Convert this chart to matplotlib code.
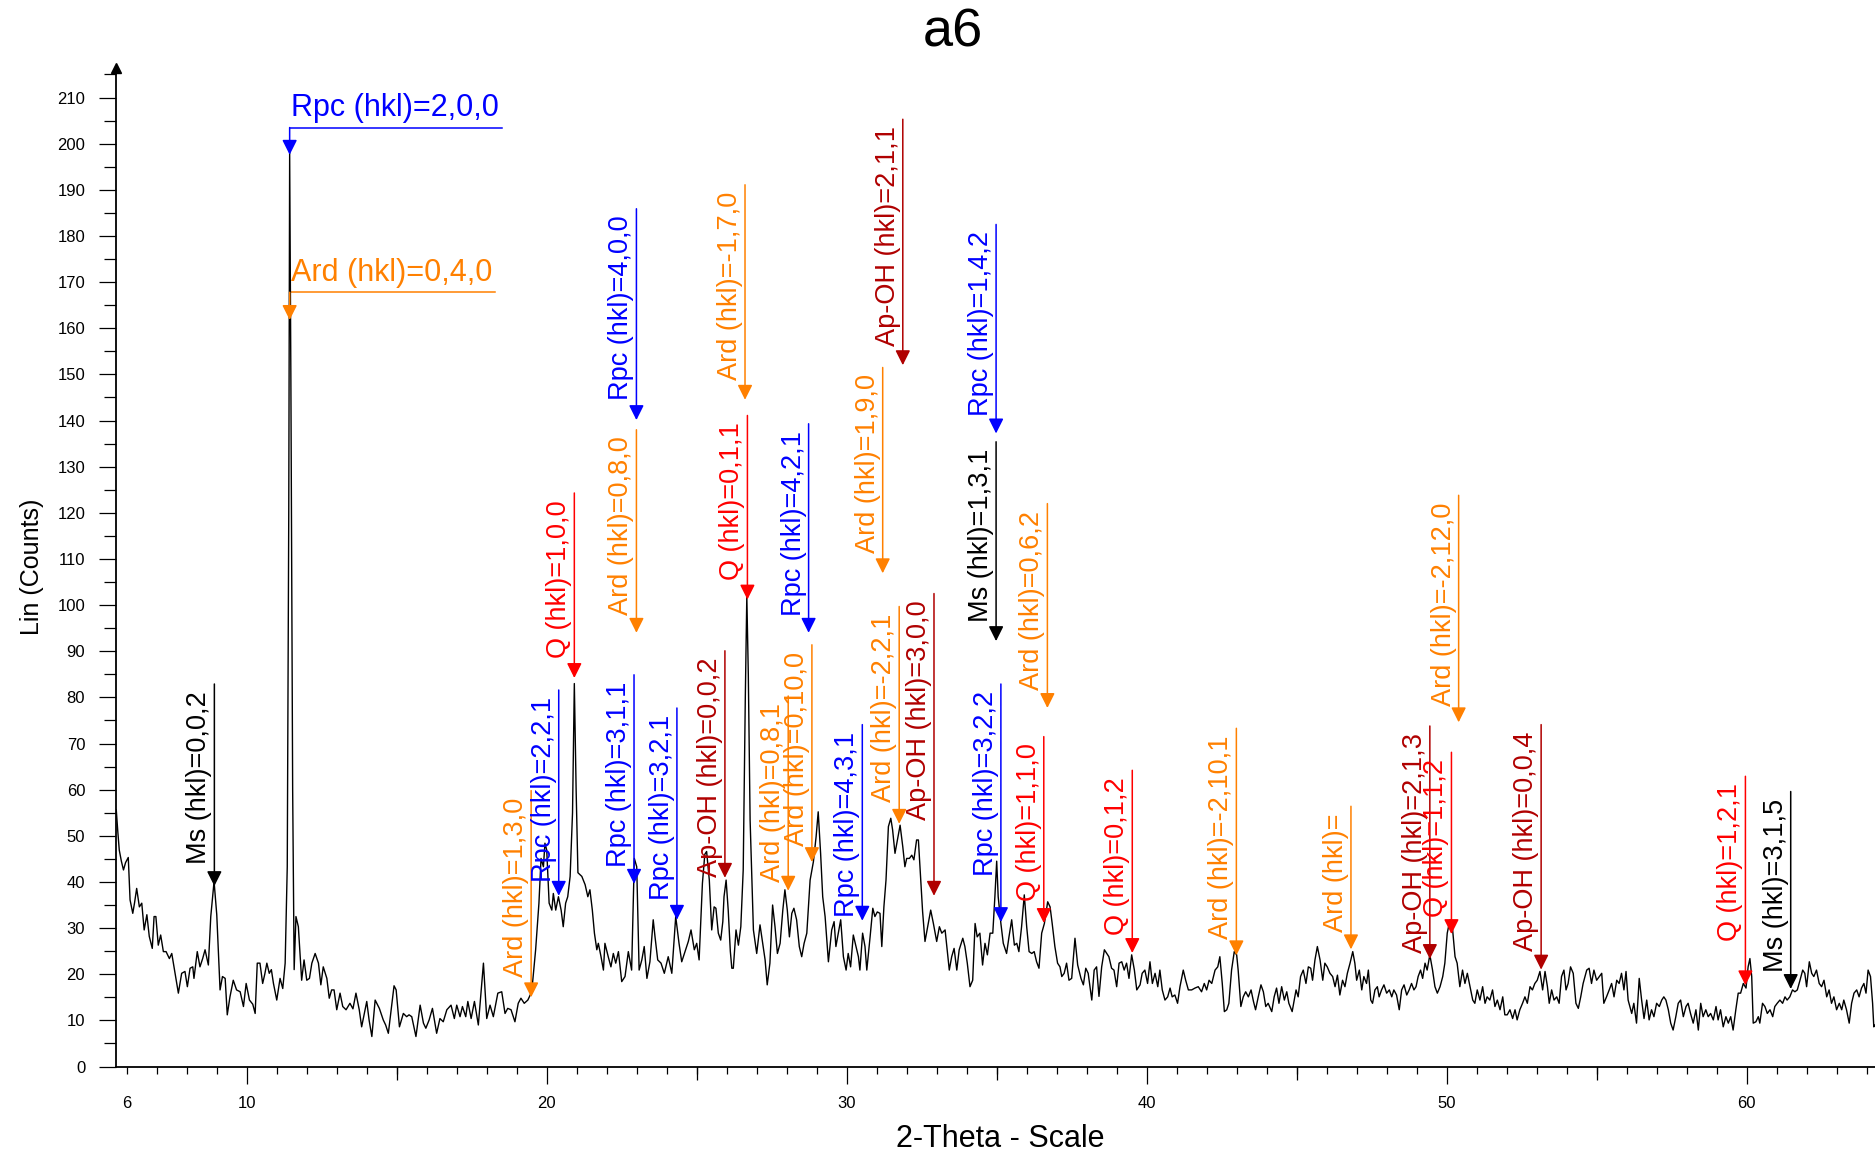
import matplotlib
matplotlib.use("Agg")
import matplotlib.pyplot as plt
import numpy as np
from matplotlib import font_manager
from matplotlib.ticker import FixedLocator, MultipleLocator

# scan, (2-theta, counts), split by range
scan_6_15 = [
    (5.65, 55.6), (5.70, 51.0), (5.75, 46.9), (5.82, 44.5), (5.89, 42.6), (5.96, 44.2),
    (6.05, 45.3), (6.11, 36.1), (6.20, 33.2), (6.26, 35.5), (6.33, 38.6), (6.42, 34.6),
    (6.50, 35.4), (6.58, 29.6), (6.67, 32.9), (6.75, 28.2), (6.85, 25.6), (6.91, 32.5),
    (6.97, 32.5), (7.05, 26.3), (7.13, 28.5), (7.22, 24.9), (7.31, 24.9), (7.42, 23.4),
    (7.50, 24.5), (7.61, 20.2), (7.72, 15.9), (7.83, 20.2), (7.94, 20.6), (8.02, 17.3),
    (8.11, 21.3), (8.20, 21.6), (8.24, 19.1), (8.35, 24.9), (8.44, 21.6), (8.53, 23.4),
    (8.61, 25.3), (8.72, 22.0), (8.80, 32.5), (8.91, 40.1), (9.00, 32.9), (9.11, 16.6),
    (9.19, 19.5), (9.28, 19.1), (9.35, 11.2), (9.44, 15.1), (9.55, 18.7), (9.66, 16.6),
    (9.78, 16.2), (9.89, 13.0), (9.98, 18.0), (10.09, 14.4), (10.20, 13.5), (10.28, 11.5),
    (10.35, 22.4), (10.44, 22.4), (10.53, 18.0), (10.60, 20.0), (10.67, 22.4), (10.75, 20.2),
    (10.82, 21.0), (10.89, 18.0), (11.00, 14.4), (11.11, 19.1), (11.20, 16.9), (11.28, 22.4),
    (11.35, 43.3), (11.40, 120.0), (11.43, 198.0), (11.47, 150.0), (11.53, 60.0), (11.58, 21.0),
    (11.64, 32.5), (11.72, 30.3), (11.83, 18.7), (11.91, 23.1), (12.00, 18.7), (12.09, 19.1),
    (12.17, 22.4), (12.28, 24.5), (12.39, 22.4), (12.47, 17.7), (12.55, 21.6), (12.67, 19.1),
    (12.75, 14.8), (12.83, 16.6), (12.91, 16.6), (13.00, 12.3), (13.11, 15.9), (13.20, 13.0),
    (13.31, 12.3), (13.44, 13.7), (13.54, 12.5), (13.64, 15.9), (13.75, 12.3), (13.83, 8.6),
    (14.00, 14.1), (14.08, 10.0), (14.17, 6.5), (14.28, 14.4), (14.42, 12.6), (14.55, 10.1),
    (14.63, 9.0), (14.72, 7.2), (14.80, 11.5), (14.91, 17.5), (14.98, 16.6), (15.09, 8.6),
    (15.22, 11.5), (15.33, 10.8),
]
scan_15_25 = [
    (15.41, 11.2), (15.50, 10.8), (15.64, 6.5), (15.78, 13.3), (15.89, 9.4), (15.97, 8.3),
    (16.08, 10.1), (16.19, 12.6), (16.33, 7.2), (16.44, 10.4), (16.55, 9.7), (16.67, 12.3),
    (16.81, 13.3), (16.92, 10.4), (17.00, 13.3), (17.11, 10.8), (17.19, 13.0), (17.30, 10.8),
    (17.37, 14.1), (17.48, 10.4), (17.59, 14.1), (17.72, 9.0), (17.89, 22.4), (18.00, 10.4),
    (18.11, 13.3), (18.22, 10.8), (18.37, 15.9), (18.50, 16.2), (18.61, 11.5), (18.70, 12.6),
    (18.81, 12.3), (18.94, 9.7), (19.05, 13.7), (19.14, 14.8), (19.25, 13.7), (19.37, 14.4),
    (19.50, 16.2), (19.63, 25.3), (19.74, 35.4), (19.81, 45.1), (19.89, 43.3), (19.94, 48.4),
    (20.00, 46.9), (20.08, 35.4), (20.17, 33.9), (20.22, 37.5), (20.30, 33.9), (20.39, 36.8),
    (20.48, 33.9), (20.55, 30.3), (20.63, 35.4), (20.70, 36.8), (20.78, 41.2), (20.86, 55.0),
    (20.92, 83.0), (20.98, 60.0), (21.04, 42.0), (21.17, 41.2), (21.28, 39.4), (21.37, 36.8),
    (21.44, 38.3), (21.52, 33.9), (21.59, 28.9), (21.67, 25.3), (21.72, 26.7), (21.81, 23.8),
    (21.89, 20.9), (21.94, 26.7), (22.05, 23.8), (22.14, 21.6), (22.22, 24.5), (22.30, 22.4),
    (22.39, 24.9), (22.50, 18.4), (22.61, 19.5), (22.72, 24.9), (22.83, 20.9), (22.92, 45.1),
    (23.00, 43.3), (23.08, 20.9), (23.17, 23.1), (23.25, 26.0), (23.34, 19.1), (23.44, 22.7),
    (23.55, 31.8), (23.61, 28.1), (23.70, 23.1), (23.81, 22.4), (23.92, 20.2), (24.05, 23.8),
    (24.17, 20.2), (24.30, 32.5), (24.41, 26.7), (24.50, 22.7), (24.61, 24.9), (24.72, 27.1),
    (24.81, 29.6), (24.92, 25.3), (25.00, 26.7), (25.08, 23.1),
]
scan_25_35 = [
    (25.19, 39.7), (25.27, 46.0), (25.33, 46.6), (25.42, 40.4), (25.50, 29.6), (25.58, 34.6),
    (25.64, 34.3), (25.72, 28.9), (25.80, 27.4), (25.87, 31.4), (25.91, 36.8), (25.98, 40.4),
    (26.05, 33.9), (26.12, 25.0), (26.17, 21.3), (26.22, 21.3), (26.31, 29.6), (26.39, 26.3),
    (26.47, 30.3), (26.55, 42.6), (26.62, 80.0), (26.67, 102.0), (26.72, 85.0), (26.78, 53.4),
    (26.89, 29.6), (27.00, 24.5), (27.11, 30.7), (27.20, 26.7), (27.28, 23.1), (27.35, 17.7),
    (27.44, 22.4), (27.53, 35.0), (27.61, 30.3), (27.69, 24.5), (27.78, 26.7), (27.87, 33.9),
    (27.94, 38.3), (28.02, 33.9), (28.09, 28.1), (28.17, 33.2), (28.24, 34.3), (28.33, 31.8),
    (28.42, 26.0), (28.50, 23.8), (28.58, 26.7), (28.67, 28.9), (28.78, 40.4), (28.89, 44.4),
    (28.98, 49.8), (29.05, 55.2), (29.13, 46.2), (29.20, 36.8), (29.28, 32.5), (29.39, 22.7),
    (29.50, 29.6), (29.58, 31.4), (29.64, 26.0), (29.72, 28.9), (29.80, 31.8), (29.89, 23.8),
    (29.98, 20.9), (30.05, 24.5), (30.13, 21.6), (30.22, 28.5), (30.31, 26.0), (30.39, 23.8),
    (30.44, 20.9), (30.53, 28.9), (30.61, 26.0), (30.67, 20.9), (30.78, 28.1), (30.87, 34.3),
    (30.94, 32.5), (31.02, 33.5), (31.11, 33.2), (31.17, 26.0), (31.24, 34.6), (31.31, 40.4),
    (31.39, 52.0), (31.47, 53.8), (31.53, 51.3), (31.61, 46.2), (31.69, 49.1), (31.78, 52.3),
    (31.87, 47.6), (31.94, 43.3), (32.00, 45.1), (32.09, 45.1), (32.17, 45.8), (32.24, 44.8),
    (32.33, 49.1), (32.39, 49.1), (32.47, 40.4), (32.53, 33.6), (32.61, 27.1), (32.70, 30.3),
    (32.80, 33.9), (32.89, 31.0), (33.00, 27.1), (33.09, 30.3), (33.17, 28.9), (33.28, 29.6),
    (33.35, 25.3), (33.42, 20.9), (33.50, 23.8), (33.58, 25.6), (33.67, 20.9), (33.75, 25.3),
    (33.87, 27.8), (33.94, 26.0), (34.02, 22.4), (34.11, 17.3), (34.20, 18.7), (34.28, 31.0),
    (34.35, 28.1), (34.44, 28.9), (34.53, 22.0), (34.61, 26.7), (34.69, 24.2), (34.78, 28.9),
    (34.87, 28.9), (34.94, 36.8), (35.00, 44.5),
]
scan_35_45 = [
    (35.05, 36.8), (35.14, 31.0), (35.22, 26.7), (35.33, 24.5), (35.41, 28.1), (35.50, 31.8),
    (35.59, 26.3), (35.67, 26.7), (35.74, 24.9), (35.83, 30.3), (35.92, 37.2), (36.00, 30.3),
    (36.08, 24.9), (36.17, 24.5), (36.25, 24.9), (36.33, 22.7), (36.41, 21.3), (36.50, 28.9),
    (36.59, 31.0), (36.70, 35.7), (36.78, 34.6), (36.85, 31.0), (36.94, 26.0), (37.03, 22.4),
    (37.11, 21.6), (37.17, 19.5), (37.25, 20.2), (37.33, 22.4), (37.41, 18.7), (37.50, 19.1),
    (37.61, 27.8), (37.70, 22.0), (37.81, 19.1), (37.89, 17.7), (37.97, 21.3), (38.05, 20.2),
    (38.17, 14.4), (38.25, 20.9), (38.33, 21.6), (38.41, 15.2), (38.50, 21.6), (38.59, 25.3),
    (38.67, 24.5), (38.74, 23.8), (38.83, 21.3), (38.91, 20.9), (39.00, 17.3), (39.08, 22.4),
    (39.17, 22.7), (39.25, 20.9), (39.33, 22.4), (39.41, 19.1), (39.50, 24.2), (39.59, 20.9),
    (39.67, 16.6), (39.78, 17.7), (39.85, 20.2), (39.94, 20.9), (40.03, 18.0), (40.11, 22.7),
    (40.19, 18.0), (40.28, 20.2), (40.37, 17.3), (40.44, 20.9), (40.52, 16.6), (40.61, 14.4),
    (40.70, 15.1), (40.78, 17.0), (40.85, 15.1), (40.94, 15.5), (41.03, 13.7), (41.11, 17.3),
    (41.22, 20.9), (41.30, 18.7), (41.39, 16.6), (41.50, 16.6), (41.61, 17.0), (41.72, 17.3),
    (41.83, 16.2), (41.92, 18.0), (42.00, 16.6), (42.08, 18.7), (42.17, 18.0), (42.28, 20.9),
    (42.37, 21.6), (42.44, 23.8), (42.52, 18.0), (42.59, 11.9), (42.67, 12.3), (42.74, 13.7),
    (42.83, 20.9), (42.92, 24.9), (43.00, 24.2), (43.05, 20.9), (43.14, 13.0), (43.22, 15.1),
    (43.30, 16.2), (43.39, 15.1), (43.48, 16.6), (43.56, 14.1), (43.63, 12.3), (43.72, 15.1),
    (43.81, 17.7), (43.89, 16.2), (43.97, 13.0), (44.05, 13.7), (44.17, 11.9), (44.25, 15.1),
    (44.33, 17.0), (44.41, 13.7), (44.50, 17.3), (44.59, 14.4), (44.67, 16.2), (44.74, 13.7),
    (44.85, 11.9),
]
scan_45_55 = [
    (44.98, 16.6), (45.05, 15.1), (45.13, 19.5), (45.22, 20.9), (45.31, 18.0), (45.39, 21.6),
    (45.47, 21.3), (45.53, 18.7), (45.61, 23.1), (45.69, 26.0), (45.78, 23.1), (45.87, 18.7),
    (45.94, 22.4), (46.02, 21.6), (46.11, 20.2), (46.20, 19.5), (46.28, 17.3), (46.36, 19.8),
    (46.44, 15.5), (46.53, 18.7), (46.61, 17.3), (46.69, 20.2), (46.78, 22.4), (46.87, 24.9),
    (46.94, 22.4), (47.00, 18.7), (47.09, 20.9), (47.17, 16.6), (47.24, 19.5), (47.33, 18.0),
    (47.39, 20.9), (47.47, 14.4), (47.53, 13.7), (47.61, 16.6), (47.69, 17.3), (47.75, 15.1),
    (47.83, 16.6), (47.91, 17.7), (48.00, 15.9), (48.09, 16.6), (48.17, 15.1), (48.24, 16.6),
    (48.33, 15.5), (48.42, 12.3), (48.50, 16.6), (48.58, 17.7), (48.67, 15.5), (48.75, 16.6),
    (48.83, 18.0), (48.91, 16.6), (48.98, 17.3), (49.05, 19.5), (49.13, 20.9), (49.20, 19.1),
    (49.28, 22.4), (49.35, 20.9), (49.44, 24.2), (49.53, 20.9), (49.61, 17.3), (49.69, 15.9),
    (49.78, 17.3), (49.87, 19.5), (49.94, 22.4), (50.02, 28.9), (50.11, 31.8), (50.19, 30.3),
    (50.28, 23.8), (50.35, 22.4), (50.44, 17.3), (50.53, 20.9), (50.61, 18.0), (50.69, 20.2),
    (50.78, 17.3), (50.87, 14.4), (50.94, 13.7), (51.02, 16.6), (51.11, 14.4), (51.20, 17.3),
    (51.28, 13.7), (51.35, 15.1), (51.44, 14.4), (51.53, 16.6), (51.61, 13.0), (51.69, 14.4),
    (51.78, 12.3), (51.87, 15.1), (51.94, 11.2), (52.02, 11.2), (52.11, 12.3), (52.20, 10.4),
    (52.28, 12.3), (52.35, 10.1), (52.44, 12.3), (52.53, 13.7), (52.61, 15.1), (52.69, 13.7),
    (52.78, 17.3), (52.86, 16.6), (52.94, 18.0), (53.02, 18.7), (53.11, 20.6), (53.20, 16.6),
    (53.28, 20.6), (53.36, 17.3), (53.42, 13.7), (53.50, 16.6), (53.58, 14.4), (53.67, 15.1),
    (53.75, 13.7), (53.83, 19.5), (53.91, 20.9), (53.98, 16.6), (54.05, 18.0), (54.13, 21.6),
    (54.22, 20.2), (54.31, 13.7), (54.39, 12.6), (54.47, 15.1),
]
scan_55_64 = [
    (54.55, 18.0), (54.67, 20.9), (54.75, 21.3), (54.83, 18.0), (54.91, 20.9), (55.00, 18.7),
    (55.09, 19.5), (55.17, 20.2), (55.24, 13.7), (55.33, 15.1), (55.42, 16.6), (55.50, 18.0),
    (55.58, 15.1), (55.67, 18.7), (55.75, 18.0), (55.83, 20.2), (55.91, 16.6), (55.98, 20.6),
    (56.05, 14.4), (56.17, 11.5), (56.24, 13.7), (56.33, 9.4), (56.42, 19.1), (56.50, 14.4),
    (56.58, 10.4), (56.67, 14.4), (56.75, 10.1), (56.83, 12.3), (56.91, 10.8), (57.00, 13.7),
    (57.09, 13.0), (57.17, 14.4), (57.24, 15.1), (57.31, 14.4), (57.39, 12.3), (57.47, 9.4),
    (57.55, 7.9), (57.64, 10.8), (57.72, 13.7), (57.80, 14.4), (57.89, 10.8), (57.98, 13.0),
    (58.05, 13.7), (58.13, 11.5), (58.22, 9.4), (58.31, 12.3), (58.39, 7.9), (58.47, 13.7),
    (58.55, 10.8), (58.64, 12.3), (58.72, 10.8), (58.80, 11.5), (58.89, 10.1), (58.98, 13.0),
    (59.05, 10.1), (59.13, 12.3), (59.22, 8.6), (59.31, 10.8), (59.39, 9.4), (59.47, 10.8),
    (59.55, 7.9), (59.64, 12.3), (59.72, 15.9), (59.80, 15.9), (59.89, 18.0), (59.98, 17.0),
    (60.05, 21.6), (60.11, 23.4), (60.17, 19.5), (60.22, 9.4), (60.31, 9.7), (60.39, 10.8),
    (60.44, 9.4), (60.53, 13.7), (60.61, 13.0), (60.69, 11.5), (60.78, 12.3), (60.87, 10.8),
    (60.94, 13.0), (61.02, 13.7), (61.11, 14.4), (61.20, 13.7), (61.28, 15.1), (61.35, 14.4),
    (61.44, 15.1), (61.53, 16.6), (61.61, 16.2), (61.69, 16.6), (61.78, 18.7), (61.87, 20.9),
    (61.94, 20.2), (62.00, 17.3), (62.09, 22.7), (62.17, 20.2), (62.24, 19.5), (62.33, 20.9),
    (62.42, 18.0), (62.50, 17.3), (62.58, 18.7), (62.67, 15.1), (62.75, 16.6), (62.83, 13.7),
    (62.91, 15.1), (63.00, 12.3), (63.09, 13.7), (63.17, 12.3), (63.24, 14.4), (63.33, 12.3),
    (63.42, 9.4), (63.50, 13.7), (63.58, 15.9), (63.67, 16.6), (63.75, 15.1), (63.83, 17.0),
    (63.91, 18.0), (63.98, 15.9), (64.05, 20.9), (64.13, 19.5), (64.20, 13.7), (64.24, 8.6),
    (64.28, 9.0),
]

# peak markers: label, phase, 2-theta, arrow tip, top of line
peak_labels = [
    "Ms (hkl)=0,0,2", "Ard (hkl)=1,3,0", "Rpc (hkl)=2,2,1", "Q (hkl)=1,0,0",
    "Rpc (hkl)=3,1,1", "Ard (hkl)=0,8,0", "Rpc (hkl)=4,0,0", "Rpc (hkl)=3,2,1",
    "Ap-OH (hkl)=0,0,2", "Q (hkl)=0,1,1", "Ard (hkl)=-1,7,0", "Ard (hkl)=0,8,1",
    "Ard (hkl)=0,10,0", "Rpc (hkl)=4,2,1", "Rpc (hkl)=4,3,1", "Ard (hkl)=1,9,0",
    "Ard (hkl)=-2,2,1", "Ap-OH (hkl)=2,1,1", "Ap-OH (hkl)=3,0,0", "Ms (hkl)=1,3,1",
    "Rpc (hkl)=1,4,2", "Rpc (hkl)=3,2,2", "Ard (hkl)=0,6,2", "Q (hkl)=1,1,0",
    "Q (hkl)=0,1,2", "Ard (hkl)=-2,10,1", "Ard (hkl)=", "Ap-OH (hkl)=2,1,3",
    "Q (hkl)=1,1,2", "Ard (hkl)=-2,12,0", "Ap-OH (hkl)=0,0,4", "Q (hkl)=1,2,1",
    "Ms (hkl)=3,1,5",
]
peak_phase = [
    "Ms", "Ard", "Rpc", "Q", "Rpc", "Ard", "Rpc", "Rpc", "Ap-OH", "Q", "Ard", "Ard",
    "Ard", "Rpc", "Rpc", "Ard", "Ard", "Ap-OH", "Ap-OH", "Ms", "Rpc", "Rpc", "Ard", "Q",
    "Q", "Ard", "Ard", "Ap-OH", "Q", "Ard", "Ap-OH", "Q", "Ms",
]
peak_theta = [
    8.92, 19.48, 20.40, 20.92, 22.91, 22.99, 22.99, 24.34, 25.94, 26.69, 26.61, 28.05,
    28.84, 28.73, 30.52, 31.20, 31.75, 31.87, 32.91, 34.98, 34.98, 35.14, 36.69, 36.57,
    39.52, 42.99, 46.81, 49.44, 50.16, 50.40, 53.15, 59.96, 61.47,
]
peak_tip = [
    39.1, 15.0, 37.0, 84.2, 39.6, 94.0, 140.1, 31.8, 40.9, 101.2, 144.5, 38.1,
    44.3, 94.0, 31.6, 106.9, 52.6, 152.0, 37.0, 92.2, 137.2, 31.3, 77.7, 31.1,
    24.6, 24.1, 25.4, 23.3, 28.7, 74.6, 21.0, 17.6, 16.8,
]
peak_top = [
    82.9, 59.8, 81.6, 124.3, 84.9, 138.0, 185.9, 77.7, 90.1, 141.1, 191.1, 80.3,
    91.4, 139.3, 74.1, 151.5, 99.7, 205.3, 102.5, 135.4, 182.5, 82.9, 122.0, 71.5,
    64.2, 73.3, 56.4, 73.8, 68.1, 123.8, 74.1, 62.9, 59.6,
]

# the two big reflections labelled with a flat leader
flat_labels = ["Rpc (hkl)=2,0,0", "Ard (hkl)=0,4,0"]
flat_phase = ["Rpc", "Ard"]
flat_theta = [11.43, 11.43]
flat_tip = [197.6, 161.8]
flat_level = [203.5, 167.8]

phase_colors = {"Rpc": "#0000FF", "Ard": "#FF8000", "Q": "#FF0000",
                "Ap-OH": "#B00000", "Ms": "#000000"}


def pick_family(name, fallback):
    try:
        font_manager.findfont(name, fallback_to_default=False)
        return name
    except ValueError:
        return fallback


def arrow(ax, x, tip, top, color):
    ax.annotate("", xy=(x, tip), xytext=(x, top),
                arrowprops=dict(arrowstyle="-|>,head_length=0.5,head_width=0.25",
                                color=color, lw=1.1, shrinkA=0, shrinkB=0,
                                mutation_scale=18))


plt.rcParams["font.family"] = ["Liberation Sans", "DejaVu Sans"]
narrow = pick_family("Liberation Sans Narrow", "Liberation Sans")

pieces = [scan_6_15, scan_15_25, scan_25_35, scan_35_45, scan_45_55, scan_55_64]
scan = np.array([p for part in pieces for p in part])
two_theta, counts = scan[:, 0], scan[:, 1]

fig = plt.figure(figsize=(18.75, 11.59), dpi=100)
ax = fig.add_axes([0.0619, 0.0798, 0.9381, 0.8619])

ax.plot(two_theta, counts, color="black", lw=1.0, zorder=3)
ax.set_xlim(5.643, 64.28)
ax.set_ylim(0, 216.5)

for side in ["top", "right"]:
    ax.spines[side].set_visible(False)
for side in ["left", "bottom"]:
    ax.spines[side].set_linewidth(1.3)

ax.yaxis.set_major_locator(MultipleLocator(10))
ax.yaxis.set_minor_locator(MultipleLocator(5))
ax.tick_params(axis="y", which="major", direction="out", length=12.2, width=0.9,
               pad=10, labelsize=12)
ax.tick_params(axis="y", which="minor", direction="out", length=8.6, width=0.9)

ax.xaxis.set_major_locator(FixedLocator(range(10, 61, 10)))
ax.xaxis.set_minor_locator(FixedLocator(range(6, 65)))
ax.tick_params(axis="x", which="major", direction="out", length=12.2, width=0.9,
               pad=9, labelsize=12, labelfontfamily=narrow)
ax.tick_params(axis="x", which="minor", direction="out", length=5, width=0.9)

sec5 = ax.secondary_xaxis("bottom")
sec5.set_xticks(range(15, 60, 10))
sec5.tick_params(axis="x", direction="out", length=9.4, width=0.9, labelbottom=False)
sec5.spines["bottom"].set_visible(False)

sec6 = ax.secondary_xaxis("bottom")
sec6.set_xticks([6], labels=["6"])
sec6.tick_params(axis="x", length=0, pad=21.2, labelsize=12, labelfontfamily=narrow)
sec6.spines["bottom"].set_visible(False)

# arrow head on top of the counts axis
ax.plot([0], [1], marker="^", color="black", markersize=7,
        transform=ax.transAxes, clip_on=False)

ax.set_ylabel("Lin (Counts)", fontsize=18)
ax.yaxis.set_label_coords(-0.041, 0.5)
ax.set_xlabel("2-Theta - Scale", fontsize=22, fontfamily=narrow)
ax.xaxis.set_label_coords(0.5026, -0.058)

fig.text(0.508, 0.972, "a6", ha="center", va="center", fontsize=39)

for label, phase, x, tip, top in zip(peak_labels, peak_phase, peak_theta,
                                     peak_tip, peak_top):
    c = phase_colors[phase]
    arrow(ax, x, tip, top, c)
    ax.annotate(label, xy=(x, top), xytext=(-1.5, -5), textcoords="offset points",
                rotation=90, ha="right", va="top", color=c, fontsize=19.5)

flat_texts = []
for label, phase, x, tip, level in zip(flat_labels, flat_phase, flat_theta,
                                       flat_tip, flat_level):
    c = phase_colors[phase]
    arrow(ax, x, tip, level, c)
    t = ax.annotate(label, xy=(x, level), xytext=(1, 3), textcoords="offset points",
                    ha="left", va="bottom", color=c, fontsize=22)
    flat_texts.append((t, x, level, c))

fig.canvas.draw()
renderer = fig.canvas.get_renderer()
for t, x, level, c in flat_texts:
    bb = t.get_window_extent(renderer).transformed(ax.transData.inverted())
    ax.plot([x, bb.x1 + 0.1], [level, level], color=c, lw=1.1)

fig.savefig("out.png", dpi=100)
